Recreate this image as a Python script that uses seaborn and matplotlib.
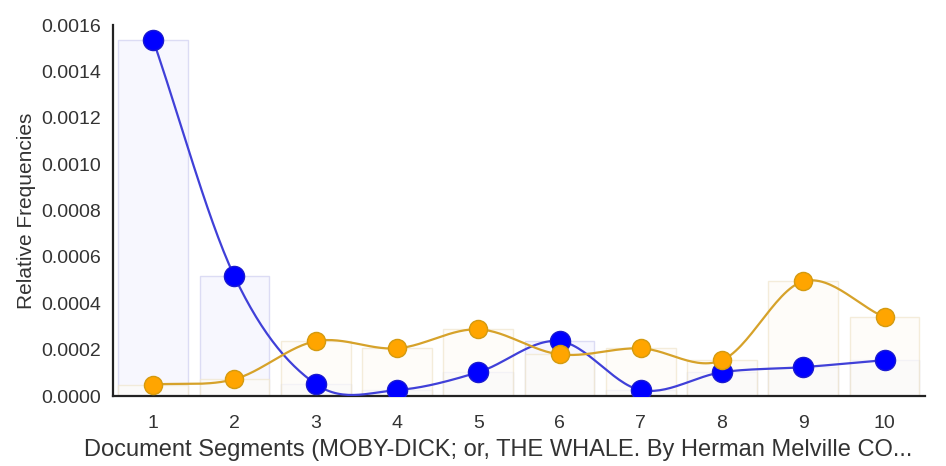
import numpy as np
import pandas as pd
import matplotlib
matplotlib.use("Agg")
import matplotlib.pyplot as plt
import seaborn as sns

# 문서 구간과 두 단어의 상대 빈도
segments = [1, 2, 3, 4, 5, 6, 7, 8, 9, 10]
blue_freq = [0.001535, 0.000516, 0.000052, 0.000026, 0.000103,
             0.000237, 0.000026, 0.000103, 0.000125, 0.000155]
orange_freq = [0.000050, 0.000073, 0.000237, 0.000206, 0.000288,
               0.000180, 0.000206, 0.000155, 0.000495, 0.000340]
y_ticks = [0.0, 0.0002, 0.0004, 0.0006, 0.0008, 0.0010, 0.0012, 0.0014, 0.0016]


# 점들을 부드럽게 잇는 Catmull-Rom 곡선
def CatmullRom(xs, ys, n=30):
    xs = np.asarray(xs, float)
    ys = np.asarray(ys, float)
    px = np.concatenate([[2 * xs[0] - xs[1]], xs, [2 * xs[-1] - xs[-2]]])
    py = np.concatenate([[2 * ys[0] - ys[1]], ys, [2 * ys[-1] - ys[-2]]])
    out_x, out_y = [], []
    t = np.linspace(0, 1, n, endpoint=False)
    for i in range(1, len(px) - 2):
        for arr, out in ((px, out_x), (py, out_y)):
            p0, p1, p2, p3 = arr[i - 1], arr[i], arr[i + 1], arr[i + 2]
            out.extend(0.5 * (2 * p1 + (-p0 + p2) * t
                              + (2 * p0 - 5 * p1 + 4 * p2 - p3) * t ** 2
                              + (-p0 + 3 * p1 - 3 * p2 + p3) * t ** 3))
    out_x.append(xs[-1])
    out_y.append(ys[-1])
    return np.array(out_x), np.array(out_y)


sns.set_style("white")
plt.rcParams["font.family"] = ["Liberation Sans", "DejaVu Sans"]

df = pd.DataFrame({"segment": segments, "blue": blue_freq, "orange": orange_freq})

fig = plt.figure(figsize=(9.46, 4.66), dpi=100)
ax = fig.add_axes([0.119, 0.150, 0.859, 0.796])

# 희미한 막대
sns.barplot(data=df, x="segment", y="blue", native_scale=True, width=0.86,
            color="#f6f6ff", edgecolor="#dcdcf4", linewidth=1, ax=ax, zorder=1)
sns.barplot(data=df, x="segment", y="orange", native_scale=True, width=0.86,
            color="#fffdf6", edgecolor="#f0e6cc", linewidth=1, ax=ax, zorder=1)
for p in ax.patches[10:]:
    p.set_alpha(0.7)

# 곡선과 점
bx, by = CatmullRom(segments, blue_freq)
ox, oy = CatmullRom(segments, orange_freq)
ax.plot(bx, by, color="#4040d8", lw=1.6, zorder=3)
sns.scatterplot(data=df, x="segment", y="blue", s=210, color="#0000ff",
                edgecolor="#1a1ad0", linewidth=1, ax=ax, zorder=4)
ax.plot(ox, oy, color="#d6a22a", lw=1.6, zorder=5)
sns.scatterplot(data=df, x="segment", y="orange", s=170, color="#ffa500",
                edgecolor="#d49a10", linewidth=1, ax=ax, zorder=6)

ax.set_xlim(0.5, 10.5)
ax.set_ylim(0, 0.0016)
ax.set_xticks(segments)
ax.set_yticks(y_ticks)
ax.set_yticklabels([f"{v:.4f}" for v in y_ticks])
ax.tick_params(axis="both", direction="out", length=6.5, width=1.2,
               colors="#222222", labelsize=14, labelcolor="#333333")
ax.tick_params(axis="x", pad=7)
ax.tick_params(axis="y", pad=1.5)
for side in ("top", "right"):
    ax.spines[side].set_visible(False)
for side in ("left", "bottom"):
    ax.spines[side].set_color("#222222")
    ax.spines[side].set_linewidth(1.6)

ax.set_xlabel("Document Segments (MOBY-DICK; or, THE WHALE. By Herman Melville CO...",
              fontsize=17, color="#333333")
ax.xaxis.set_label_coords(0.474, -0.117)
ax.set_ylabel("Relative Frequencies", fontsize=15, color="#333333", labelpad=4)

fig.savefig("out.png", dpi=100)
